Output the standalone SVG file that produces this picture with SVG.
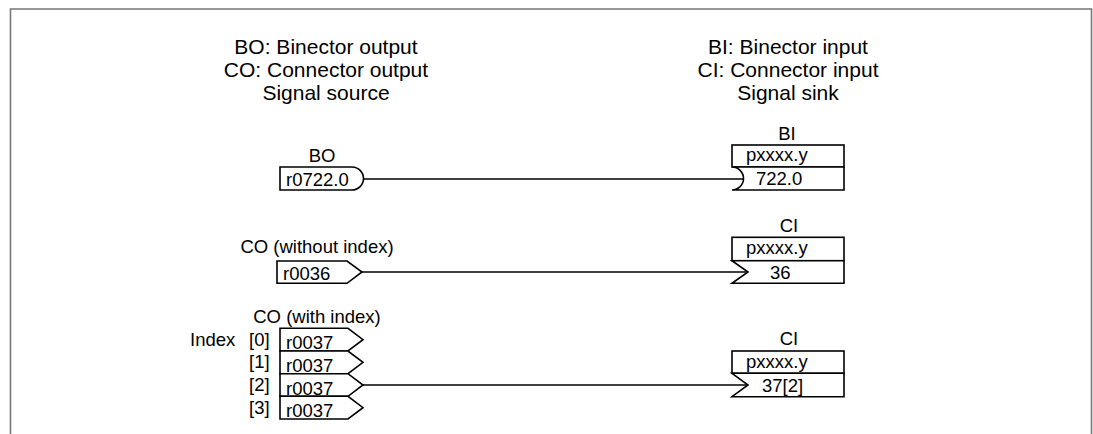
<svg xmlns="http://www.w3.org/2000/svg" width="1093" height="434" viewBox="0 0 1093 434">
<style>
text{font-family:"Liberation Sans",Arial,sans-serif;fill:#000}
.h{font-size:21px;text-anchor:middle}
.l{font-size:18.5px}
.c{text-anchor:middle}
.b{fill:#fff;stroke:#000;stroke-width:1.6}
.w{stroke:#000;stroke-width:1.6;fill:none}
.frame{stroke:#777;stroke-width:1.6;fill:none}
</style>
<rect width="1093" height="434" fill="#fff"/>
<path class="frame" d="M10.5,434 V9 H1091.5 V434"/>
<g id="header-source">
<text class="h" x="326" y="54">BO: Binector output</text>
<text class="h" x="326" y="77">CO: Connector output</text>
<text class="h" x="326" y="100">Signal source</text>
</g>
<g id="header-sink">
<text class="h" x="788" y="54">BI: Binector input</text>
<text class="h" x="788" y="77">CI: Connector input</text>
<text class="h" x="788" y="100">Signal sink</text>
</g>
<g id="connectors">
<path class="w" d="M363.5,179 H743.5"/>
<path class="w" d="M362,272 H748"/>
<path class="w" d="M363,385 H748"/>
</g>
<g id="bo">
<text class="l c" x="322" y="161.5">BO</text>
<path class="b" d="M280,167 H352 A11.5,11.5 0 0 1 352,190 H280 Z"/>
<text class="l" x="286" y="186">r0722.0</text>
</g>
<g id="co-noindex">
<text class="l c" x="317" y="253">CO (without index)</text>
<path class="b" d="M277,261 H347 L362,272 L347,283.3 H277 Z"/>
<text class="l" x="283" y="280">r0036</text>
</g>
<g id="co-index">
<text class="l c" x="317" y="323">CO (with index)</text>
<text class="l" x="190" y="345.5">Index</text>
<text class="l" x="249" y="345.5">[0]</text>
<text class="l" x="249" y="368">[1]</text>
<text class="l" x="249" y="391">[2]</text>
<text class="l" x="249" y="413.5">[3]</text>
<path class="b" d="M280,328.3 H348 L363,339.7 L348,351 H280 Z"/>
<path class="b" d="M280,351 H348 L363,362.3 L348,373.7 H280 Z"/>
<path class="b" d="M280,373.7 H348 L363,385 L348,396.3 H280 Z"/>
<path class="b" d="M280,396.3 H348 L363,407.7 L348,419 H280 Z"/>
<text class="l" x="286" y="349">r0037</text>
<text class="l" x="286" y="371.5">r0037</text>
<text class="l" x="286" y="394.5">r0037</text>
<text class="l" x="286" y="417">r0037</text>
</g>
<g id="bi">
<text class="l c" x="787" y="139.5">BI</text>
<rect class="b" x="732" y="145" width="112" height="22"/>
<path class="b" d="M732,167 H844 V190 H732 A11.5,11.5 0 0 0 732,167 Z"/>
<text class="l" x="746" y="161">pxxxx.y</text>
<text class="l" x="756" y="185">722.0</text>
</g>
<g id="ci-1">
<text class="l c" x="789" y="232">CI</text>
<rect class="b" x="732" y="237.3" width="112" height="23.4"/>
<path class="b" d="M732,260.7 H844 V283.3 H732 L748,272 Z"/>
<text class="l" x="746" y="254">pxxxx.y</text>
<text class="l" x="770" y="278.5">36</text>
</g>
<g id="ci-2">
<text class="l c" x="789" y="345">CI</text>
<rect class="b" x="732" y="351" width="112" height="22.3"/>
<path class="b" d="M732,373.3 H844 V396.7 H732 L748,385 Z"/>
<text class="l" x="746" y="367.5">pxxxx.y</text>
<text class="l" x="762" y="391.5">37[2]</text>
</g>
</svg>
